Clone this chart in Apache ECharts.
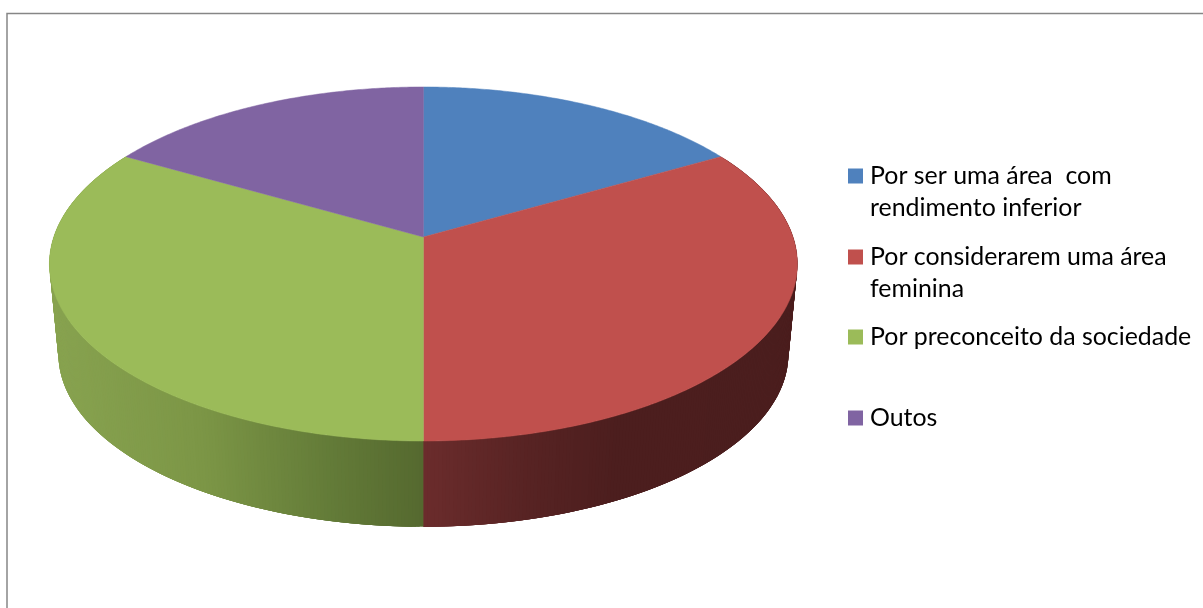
<!DOCTYPE html>
<html>
<head>
<meta charset="utf-8">
<style>html,body{margin:0;padding:0;background:#fff}#c{width:1203px;height:608px}</style>
<script src="https://cdn.jsdelivr.net/npm/echarts@6/dist/echarts.min.js"></script>
</head>
<body>
<div id="c"></div>
<script>
const categories = ['Por ser uma área  com\nrendimento inferior', 'Por considerarem uma área\nfeminina', 'Por preconceito da sociedade', 'Outos'];
const values = [1, 2, 2, 1];
const colors = ['#4f81bd', '#c0504d', '#9bbb59', '#8064a2'];
const legendTops = [128, 209, 321, 402];

// Projected disc geometry (perspective view of the pie)
const GEO = { cx: 423.4, topCy: 237, botCy: 327.6, rx: 369.6, ry: 172.9, k: 0.1525, botScale: 0.976 };
// Side-wall shade stops by screen x
const wallStops = {
  1: [[424, [107, 44, 44]], [530, [87, 35, 35]], [620, [76, 30, 30]], [800, [75, 30, 30]]],
  2: [[45, [136, 163, 80]], [200, [124, 150, 70]], [330, [99, 123, 56]], [424, [85, 105, 47]]]
};

const total = values.reduce((a, b) => a + b, 0);
const spans = [];
values.reduce((acc, v) => { spans.push([acc / total * 360, (acc + v) / total * 360]); return acc + v; }, 0);

function project(deg, cy, s) {
  const t = deg * Math.PI / 180, w = 1 + GEO.k * Math.cos(t);
  return [GEO.cx + s * GEO.rx * Math.sin(t) / w, cy - s * GEO.ry * Math.cos(t) / w];
}
function shade(stops, x) {
  let i = 0;
  while (i < stops.length - 2 && x > stops[i + 1][0]) i++;
  const a = stops[i], b = stops[i + 1], f = Math.max(0, Math.min(1, (x - a[0]) / (b[0] - a[0])));
  return 'rgb(' + [0, 1, 2].map(n => Math.round(a[1][n] + (b[1][n] - a[1][n]) * f)).join(',') + ')';
}

function renderTop(params, api) {
  const start = api.value(0), end = api.value(1);
  const pts = [[GEO.cx, GEO.topCy]];
  for (let d = start; d < end; d += 0.5) pts.push(project(d, GEO.topCy, 1));
  pts.push(project(end, GEO.topCy, 1));
  const color = colors[api.value(2)];
  return { type: 'polygon', shape: { points: pts }, style: { fill: color, stroke: color, lineWidth: 0.5 } };
}
function renderWall(params, api) {
  const start = api.value(0), end = api.value(1), idx = api.value(2);
  const stops = wallStops[idx], children = [];
  const step = 0.5;
  // Each strip reaches over the next one, and is painted over by it, so no seams show.
  for (let d = start; d < end; d += step) {
    const e = Math.min(end, d + step * 4), m = Math.min(end, d + step);
    const a = project(d, GEO.topCy, 1), b = project(e, GEO.topCy, 1);
    const c = project(e, GEO.botCy, GEO.botScale), f = project(d, GEO.botCy, GEO.botScale);
    const col = shade(stops, (a[0] + project(m, GEO.topCy, 1)[0]) / 2);
    children.push({ type: 'polygon', shape: { points: [a, b, c, f] }, style: { fill: col } });
  }
  return { type: 'group', children };
}

const series = [{
  type: 'custom', name: 'wall', coordinateSystem: 'none', silent: true, z: 1,
  renderItem: renderWall,
  data: spans.map((s, i) => [s[0], s[1], i]).filter(r => wallStops[r[2]])
}].concat(categories.map((name, i) => ({
  type: 'custom', name, coordinateSystem: 'none', silent: true, z: 2,
  itemStyle: { color: colors[i] },
  renderItem: renderTop,
  data: [[spans[i][0], spans[i][1], i]]
})));

const legend = categories.map((name, i) => ({
  data: [name], orient: 'vertical', left: 848, top: legendTops[i], padding: 0,
  itemWidth: 15, itemHeight: 15, selectedMode: false, icon: 'rect',
  // A leading blank line keeps the marker level with the first line of a wrapped label.
  formatter: n => (n.includes('\n') ? '\n' + n : n),
  textStyle: { fontFamily: 'Lato', fontSize: 24.9, lineHeight: 32, color: '#000', padding: [0, 0, 0, 2] }
}));

const chart = echarts.init(document.getElementById('c'), null, { renderer: 'canvas' });
chart.setOption({
  animation: false,
  backgroundColor: '#fff',
  legend,
  graphic: [{
    type: 'rect', silent: true, z: 0,
    shape: { x: 7, y: 13.5, width: 1400, height: 800 },
    style: { fill: 'none', stroke: '#868686', lineWidth: 1.5 }
  }],
  series
});
</script>
</body>
</html>
